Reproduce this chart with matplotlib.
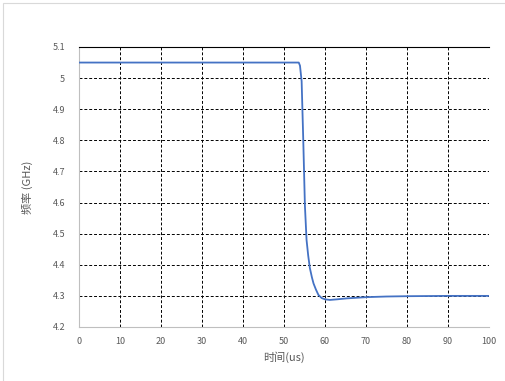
import matplotlib.pyplot as plt
from matplotlib.patches import Rectangle

plt.rcParams['font.family'] = ['Noto Sans CJK SC', 'DejaVu Sans']

# time (us) and frequency (GHz)
t = [0, 10, 20, 30, 40, 50, 53.6, 53.9, 54.3, 54.7, 55.1, 55.5, 55.9, 56.3,
     56.8, 57.2, 57.8, 58.4, 59.2, 60.0, 61.2, 63.0, 65.3, 70.2, 75, 80, 90, 100]
freq = [5.05, 5.05, 5.05, 5.05, 5.05, 5.05, 5.05, 5.04, 4.99, 4.80, 4.59, 4.48,
        4.43, 4.39, 4.36, 4.34, 4.32, 4.303, 4.293, 4.289, 4.287, 4.289, 4.292,
        4.296, 4.298, 4.299, 4.30, 4.30]

xticks = list(range(0, 101, 10))
yticks = [4.2, 4.3, 4.4, 4.5, 4.6, 4.7, 4.8, 4.9, 5.0, 5.1]
ytick_labels = ['4.2', '4.3', '4.4', '4.5', '4.6', '4.7', '4.8', '4.9', '5', '5.1']

grey = '#595959'

fig = plt.figure(figsize=(5.06, 3.81), dpi=100)
fig.patches.append(Rectangle((3 / 506, -0.1), 1.2, 1 - 3 / 381 + 0.1,
                             transform=fig.transFigure, fill=False,
                             edgecolor='#d9d9d9', linewidth=0.8))

ax = fig.add_axes([79 / 506, 54 / 381, 410 / 506, 280 / 381])
ax.plot(t, freq, color='#4472C4', linewidth=1.3, zorder=3)

ax.set_xlim(0, 100)
ax.set_ylim(4.2, 5.1)
ax.set_xticks(xticks)
ax.set_yticks(yticks)
ax.set_yticklabels(ytick_labels)
ax.set_axisbelow(True)
ax.grid(True, color='black', linestyle=(0, (3, 2)), linewidth=0.7)

for side in ['left', 'bottom']:
    ax.spines[side].set_color('#bfbfbf')
    ax.spines[side].set_linewidth(0.8)
ax.spines['top'].set_color('black')
ax.spines['top'].set_linewidth(0.8)
ax.spines['right'].set_visible(False)

ax.tick_params(length=0, labelsize=6.5, labelcolor=grey)
ax.tick_params(axis='y', pad=10)
ax.tick_params(axis='x', pad=7)

ax.set_xlabel('时间(us)', fontsize=8, color=grey, labelpad=4)
ax.set_ylabel('频率 (GHz)', fontsize=8, color=grey, labelpad=14)

fig.savefig('out.png', dpi=100)
